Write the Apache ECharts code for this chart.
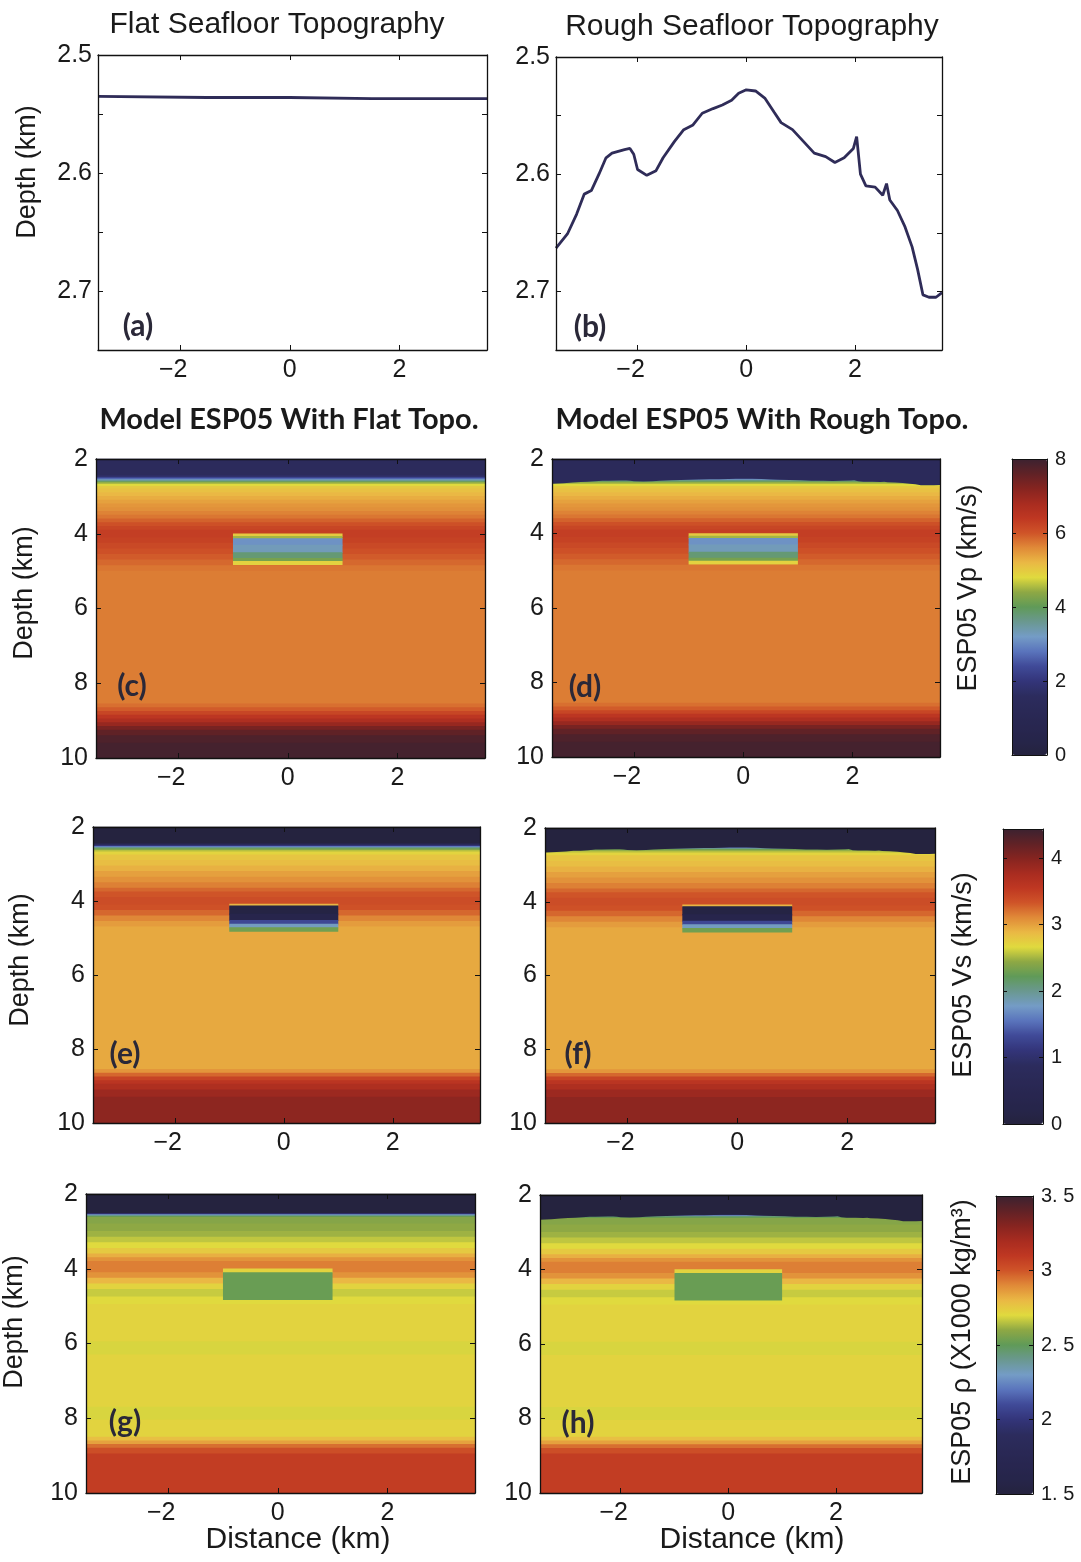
<!DOCTYPE html>
<html>
<head>
<meta charset="utf-8">
<script src="https://cdn.jsdelivr.net/npm/echarts@6/dist/echarts.min.js"></script>
<style>
  html, body { margin: 0; background: #fff; }
  #chart { width: 1081px; height: 1562px; }
</style>
</head>
<body>
<div id="chart"></div>
<script>
// seafloor picks, panel (a) flat and (b) rough (distance km, depth km)
const flatX = [-3.5, -1.5, 0, 1.5, 3.6]
const topoFlat = [2.535, 2.536, 2.536, 2.537, 2.537]
const topoX = [-3.50, -3.29, -3.12, -2.98, -2.85, -2.71, -2.58, -2.47, -2.24, -2.14, -2.07, -2.00, -1.83, -1.66, -1.53, -1.32, -1.15, -0.98, -0.81, -0.61, -0.44, -0.27, -0.14, 0.00, 0.17, 0.34, 0.51, 0.64, 0.85, 1.05, 1.25, 1.46, 1.63, 1.80, 1.97, 2.03, 2.10, 2.20, 2.37, 2.51, 2.58, 2.64, 2.78, 2.92, 3.05, 3.15, 3.25, 3.36, 3.49, 3.60]
const topoRough = [2.663, 2.651, 2.634, 2.617, 2.614, 2.600, 2.586, 2.582, 2.579, 2.578, 2.583, 2.596, 2.601, 2.597, 2.586, 2.572, 2.562, 2.558, 2.548, 2.544, 2.541, 2.537, 2.531, 2.528, 2.529, 2.535, 2.547, 2.556, 2.562, 2.572, 2.582, 2.585, 2.590, 2.586, 2.578, 2.568, 2.600, 2.610, 2.611, 2.618, 2.608, 2.622, 2.631, 2.645, 2.662, 2.681, 2.703, 2.705, 2.705, 2.701]

// layered model: top depth of each layer (km) and its value
const vpDepth = [2.00, 2.45, 2.49, 2.52, 2.55, 2.58, 2.61, 2.64, 2.68, 2.73, 2.80, 2.90, 3.00, 3.10, 3.20, 3.30, 3.40, 3.50, 3.60, 3.70, 3.80, 3.90, 4.10, 4.25, 4.40, 4.55, 4.70, 4.85, 5.00, 8.55, 8.65, 8.75, 8.85, 8.95, 9.05, 9.15, 9.25, 9.40, 9.60]
const vpFlat  = [1.5, 1.8, 2.3, 2.8, 3.3, 3.8, 4.2, 4.55, 4.8, 5.0, 5.1, 5.2, 5.3, 5.4, 5.5, 5.55, 5.65, 5.75, 5.9, 6.05, 6.2, 6.3, 6.25, 6.15, 6.05, 5.95, 5.85, 5.75, 5.7, 5.8, 5.95, 6.2, 6.45, 6.7, 7.0, 7.35, 7.6, 7.8, 7.9]
const vsDepth = [2.00, 2.45, 2.49, 2.52, 2.55, 2.58, 2.62, 2.67, 2.75, 2.90, 3.05, 3.20, 3.35, 3.50, 3.65, 3.75, 3.90, 4.10, 4.25, 4.40, 4.55, 4.70, 8.55, 8.65, 8.75, 8.85, 8.95, 9.10, 9.30]
const vsFlat  = [0.0, 0.5, 1.1, 1.6, 2.0, 2.3, 2.55, 2.7, 2.8, 2.85, 2.92, 3.0, 3.07, 3.15, 3.25, 3.33, 3.38, 3.35, 3.25, 3.12, 3.02, 2.96, 3.05, 3.25, 3.45, 3.6, 3.72, 3.85, 3.95]
const rhoDepth = [2.00, 2.52, 2.55, 2.58, 2.62, 2.80, 3.00, 3.15, 3.30, 3.45, 3.60, 3.70, 3.80, 4.10, 4.25, 4.40, 4.55, 4.75, 4.95, 5.95, 6.30, 7.70, 8.05, 8.50, 8.60, 8.70, 8.80, 8.95]
const rhoFlat  = [1.5, 2.0, 2.3, 2.5, 2.58, 2.6, 2.62, 2.66, 2.7, 2.75, 2.82, 2.88, 2.92, 2.88, 2.8, 2.72, 2.67, 2.7, 2.72, 2.69, 2.72, 2.69, 2.72, 2.78, 2.85, 2.95, 3.02, 3.08]
const modelBottom = 10

// low velocity box
const boxX = [-1.0, 1.0]
const boxBottom = 4.82
const vpBoxDepth = [4.00, 4.07, 4.13, 4.30, 4.50, 4.66, 4.74]
const vpBox = [5.0, 4.5, 3.1, 3.3, 3.8, 4.2, 4.9]
const vsBoxDepth = [4.08, 4.13, 4.35, 4.52, 4.62, 4.72]
const vsBox = [2.9, 0.1, 0.3, 1.3, 1.8, 2.3]
const rhoBoxDepth = [4.00, 4.10]
const rhoBox = [2.72, 2.52]

// colour scales
const vpRange = [0, 8]
const vsRange = [0, 4.44]
const rhoRange = [1.5, 3.5]
const cmap = ['#25233f', '#26254a', '#282650', '#2a2956', '#2c2c5e', '#33357a', '#404a98', '#5a74bc', '#749cc6', '#6a9890',
  '#609a58', '#8ea844', '#e0da3e', '#eab844', '#e08a38', '#cf5428', '#bf3722', '#a82c20', '#862420', '#602226', '#3c2230']

const X_MIN = -3.5, X_MAX = 3.6
const FONT = '"Liberation Sans", Arial, sans-serif'
const BOLD = 'Lato, "Noto Sans", sans-serif'

const grids = [], xAxes = [], yAxes = [], series = [], graphics = []

// MATLAB puts the digit (not the minus) under the tick
const xLabel = v => (v < 0 ? '{neg|\u2212' + Math.abs(v) + '}' : String(v))

// one plot box with ticks on all four sides
function panel(box, y, opt = {}) {
  const gi = grids.length
  grids.push({ left: box[0], top: box[1], width: box[2], height: box[3] })
  const line = { show: true, onZero: false, lineStyle: { color: '#111', width: 1.3 } }
  const tick = { show: true, inside: true, length: 5, lineStyle: { color: '#111', width: 1 } }
  const lab = { color: '#1a1a1a', fontFamily: FONT, fontSize: 25 }
  const xBase = { gridIndex: gi, type: 'value', min: X_MIN, max: X_MAX, splitNumber: 3, splitLine: { show: false }, axisLine: line, axisTick: tick, z: 10 }
  const yBase = { gridIndex: gi, type: 'value', min: y.min, max: y.max, interval: y.step, inverse: true, splitLine: { show: false }, axisLine: line, axisTick: tick, z: 10 }
  const xi = xAxes.length
  xAxes.push({ ...xBase, position: 'bottom',
    axisLabel: { ...lab, margin: 8, showMinLabel: false, showMaxLabel: false, formatter: xLabel,
      rich: { neg: { fontFamily: FONT, fontSize: 25, color: '#1a1a1a', padding: [0, 14, 0, 0] } } } })
  xAxes.push({ ...xBase, position: 'top', axisLabel: { show: false } })
  const yi = yAxes.length
  yAxes.push({ ...yBase, position: 'left',
    axisLabel: { ...lab, margin: opt.yMargin || 6, formatter: y.fmt || (v => String(v)) } })
  yAxes.push({ ...yBase, position: 'right', axisLabel: { show: false } })
  return { xi, yi }
}

function colorbar(box, range, step, fmt) {
  const gi = grids.length
  grids.push({ left: box[0], top: box[1], width: box[2], height: box[3] })
  const line = { show: true, onZero: false, lineStyle: { color: '#111', width: 1 } }
  xAxes.push({ gridIndex: gi, type: 'value', min: 0, max: 1, position: 'bottom', axisLine: line, axisTick: { show: false }, axisLabel: { show: false }, splitLine: { show: false }, z: 10 })
  xAxes.push({ gridIndex: gi, type: 'value', min: 0, max: 1, position: 'top', axisLine: line, axisTick: { show: false }, axisLabel: { show: false }, splitLine: { show: false }, z: 10 })
  const yBase = { gridIndex: gi, type: 'value', min: range[0], max: range[1], interval: step, splitLine: { show: false }, axisLine: line,
    axisTick: { show: true, inside: true, length: 4, lineStyle: { color: '#111' } }, z: 10 }
  yAxes.push({ ...yBase, position: 'right',
    axisLabel: { color: '#1a1a1a', fontFamily: FONT, fontSize: 20, margin: 8, showMaxLabel: range[1] % step === 0, formatter: fmt || (v => String(v)) } })
  yAxes.push({ ...yBase, position: 'left', axisLabel: { show: false } })
}

// layers -> rect items [x0, x1, topDepth, bottomDepth, value]
function layerData(depths, values, x0, x1, bottom) {
  return values.map((v, i) => [x0, x1, depths[i], i + 1 < depths.length ? depths[i + 1] : bottom, v])
}

function renderLayer(params, api) {
  const p0 = api.coord([api.value(0), api.value(2)])
  const p1 = api.coord([api.value(1), api.value(3)])
  return {
    type: 'rect',
    shape: { x: Math.min(p0[0], p1[0]), y: Math.min(p0[1], p1[1]) - 0.3, width: Math.abs(p1[0] - p0[0]), height: Math.abs(p1[1] - p0[1]) + 0.8 },
    style: { fill: api.visual('color') }
  }
}

function modelSeries(ax, depths, values, boxDepths, boxValues) {
  const ids = []
  ids.push(series.length)
  series.push({ type: 'custom', xAxisIndex: ax.xi, yAxisIndex: ax.yi, renderItem: renderLayer, silent: true, z: 1,
    encode: { x: [0, 1], y: [2, 3] }, data: layerData(depths, values, X_MIN, X_MAX, modelBottom) })
  ids.push(series.length)
  series.push({ type: 'custom', xAxisIndex: ax.xi, yAxisIndex: ax.yi, renderItem: renderLayer, silent: true, z: 3,
    encode: { x: [0, 1], y: [2, 3] }, data: layerData(boxDepths, boxValues, boxX[0], boxX[1], boxBottom) })
  return ids
}

// water column above the rough seafloor
function waterSeries(ax, color) {
  series.push({ type: 'line', xAxisIndex: ax.xi, yAxisIndex: ax.yi, silent: true, z: 2, showSymbol: false, symbol: 'none',
    lineStyle: { width: 0, opacity: 0 }, areaStyle: { color, opacity: 1, origin: 'start' },
    data: topoX.map((x, i) => [x, topoRough[i]]) })
}

function topoSeries(ax, xs, ds) {
  series.push({ type: 'line', xAxisIndex: ax.xi, yAxisIndex: ax.yi, silent: true, showSymbol: false, symbol: 'none',
    lineStyle: { color: '#2f2c58', width: 2.8 }, data: xs.map((x, i) => [x, ds[i]]) })
}

function text(str, x, y, size, o = {}) {
  graphics.push({ type: 'text', x, y, rotation: o.rot || 0, z: 100, silent: true,
    style: { text: str, fill: o.color || '#1a1a1a', font: (o.weight || 'normal') + ' ' + size + 'px ' + (o.family || FONT),
      align: 'center', verticalAlign: 'middle', textAlign: 'center', textVerticalAlign: 'middle' } })
}

const topoY = { min: 2.5, max: 2.75, step: 0.05,
  fmt: v => (Math.abs(v * 10 - Math.round(v * 10)) < 1e-6 ? v.toFixed(1) : '') }
const depthY = { min: 2, max: 10, step: 2 }

// (a) (b)
const pa = panel([98, 55, 389, 295], topoY)
topoSeries(pa, flatX, topoFlat)
const pb = panel([556, 57, 386, 293], topoY)
topoSeries(pb, topoX, topoRough)

// (c) (d) Vp
const pc = panel([96, 459, 389, 299], depthY, { yMargin: 8 })
const vpIds = modelSeries(pc, vpDepth, vpFlat, vpBoxDepth, vpBox)
const pd = panel([552, 459, 388, 298], depthY, { yMargin: 8 })
vpIds.push(...modelSeries(pd, vpDepth, vpFlat, vpBoxDepth, vpBox))
waterSeries(pd, '#2b2a5a')

// (e) (f) Vs
const pe = panel([93, 827, 387, 296], depthY, { yMargin: 8 })
const vsIds = modelSeries(pe, vsDepth, vsFlat, vsBoxDepth, vsBox)
const pf = panel([545, 828, 390, 295], depthY, { yMargin: 8 })
vsIds.push(...modelSeries(pf, vsDepth, vsFlat, vsBoxDepth, vsBox))
waterSeries(pf, '#25233f')

// (g) (h) density
const pg = panel([86, 1194, 389, 299], depthY, { yMargin: 8 })
const rhoIds = modelSeries(pg, rhoDepth, rhoFlat, rhoBoxDepth, rhoBox)
const ph = panel([540, 1195, 382, 298], depthY, { yMargin: 8 })
rhoIds.push(...modelSeries(ph, rhoDepth, rhoFlat, rhoBoxDepth, rhoBox))
waterSeries(ph, '#25233f')

// colour bars
const cbVp = [1012, 459, 35, 296], cbVs = [1003, 829, 40, 295], cbRho = [996, 1196, 37, 298]
colorbar(cbVp, vpRange, 2)
colorbar(cbVs, vsRange, 1)
colorbar(cbRho, rhoRange, 0.5, v => String(v).replace('.', '. '))

function vm(range, ids, box) {
  return { type: 'continuous', min: range[0], max: range[1], dimension: 4, seriesIndex: ids,
    inRange: { color: cmap }, left: box[0], top: box[1], itemWidth: box[2], itemHeight: box[3],
    calculable: false, hoverLink: false, padding: 0, text: null, showLabel: false, z: 4 }
}

// texts
text('Flat Seafloor Topography', 277, 25, 30)
text('Rough Seafloor Topography', 752, 27, 30)
text('Model ESP05 With Flat Topo.', 289, 420, 29, { weight: 'bold', family: BOLD })
text('Model ESP05 With Rough Topo.', 762, 420, 29, { weight: 'bold', family: BOLD })
text('Depth (km)', 28, 172, 27, { rot: Math.PI / 2 })
text('Depth (km)', 25, 593, 27, { rot: Math.PI / 2 })
text('Depth (km)', 21, 960, 27, { rot: Math.PI / 2 })
text('Depth (km)', 15, 1322, 27, { rot: Math.PI / 2 })
text('Distance (km)', 298, 1540, 30)
text('Distance (km)', 752, 1540, 30)
text('ESP05 Vp (km/s)', 969, 588, 27, { rot: Math.PI / 2 })
text('ESP05 Vs (km/s)', 964, 975, 27, { rot: Math.PI / 2 })
text('ESP05 \u03c1 (X1000 kg/m\u00b3)', 963, 1342, 27, { rot: Math.PI / 2 })
const letters = [['(a)', 138, 326], ['(b)', 590, 327], ['(c)', 132, 686], ['(d)', 585, 687],
  ['(e)', 125, 1054], ['(f)', 578, 1054], ['(g)', 125, 1422], ['(h)', 578, 1423]]
letters.forEach(l => text(l[0], l[1], l[2], 30, { weight: 'bold', family: BOLD, color: '#2a2838' }))

const chart = echarts.init(document.getElementById('chart'), null, { renderer: 'canvas' })
chart.setOption({
  backgroundColor: '#fff',
  animation: false,
  grid: grids,
  xAxis: xAxes,
  yAxis: yAxes,
  visualMap: [vm(vpRange, vpIds, cbVp), vm(vsRange, vsIds, cbVs), vm(rhoRange, rhoIds, cbRho)],
  series,
  graphic: graphics
})
window.addEventListener('resize', () => chart.resize())
</script>
</body>
</html>
